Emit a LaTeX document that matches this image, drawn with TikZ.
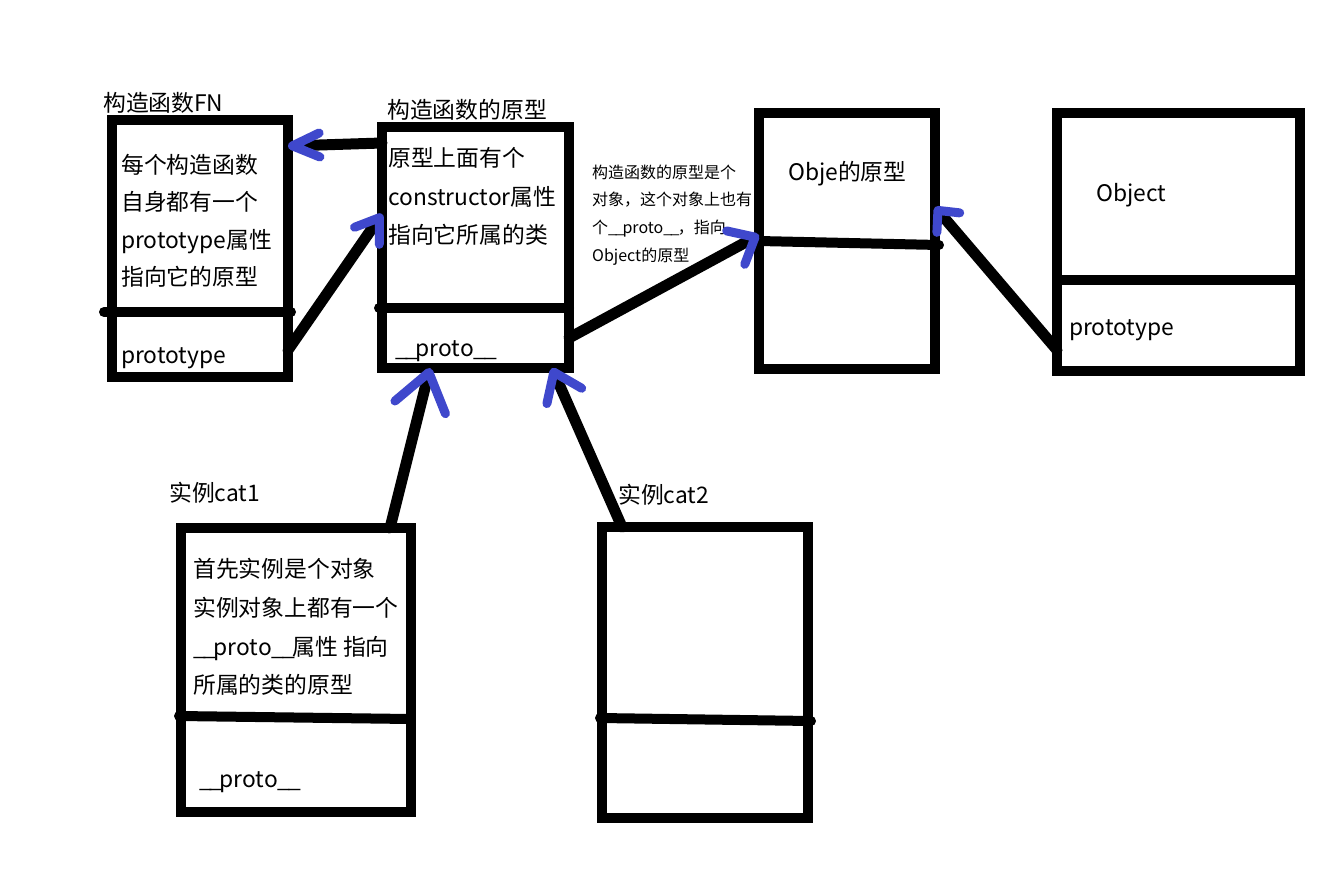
\documentclass[tikz,border=0pt]{standalone}
\usepackage{fontspec}
\newfontfamily\cjk{Noto Sans CJK SC}
\usetikzlibrary{arrows.meta}
\definecolor{pblue}{HTML}{3F48CC}
\newcommand\usc{\_\kern-0.11em}
\begin{document}
\begin{tikzpicture}[x=1pt,y=-1pt,
  box/.style={draw, line width=10pt, inner sep=0pt, outer sep=0pt},
  divider/.style={line width=10pt, line cap=round},
  conn/.style={line width=11pt, line cap=round},
  big/.style={anchor=base west, inner sep=0pt, font=\cjk\fontsize{22.8}{27}\selectfont},
  small/.style={anchor=base west, inner sep=0pt, font=\cjk\fontsize{16}{20}\selectfont},
  tipb/.style 2 args={-{Straight Barb[color=pblue, length=#1, width=#2, round, line width=9pt]}}
]
\fill[white] (0,0) rectangle (1329,888);
\useasboundingbox (0,0) rectangle (1329,888);

% ---------- texts ----------
\node[big] (lfn) at (103,111.6) {构造函数FN};
\node[big] (fn1) at (121,173.6) {每个构造函数};
\node[big] (fn2) at (121,210.6) {自身都有一个};
\node[big] (fn3) at (121,248.6) {prototype属性};
\node[big] (fn4) at (121,285.6) {指向它的原型};
\node[big] (fn5) at (121,363) {prototype};

\node[big] (lpr) at (387,118.6) {构造函数的原型};
\node[big] (pr1) at (388,166.6) {原型上面有个};
\node[big] (pr2) at (388,205.6) {constructor属性};
\node[big] (pr3) at (388,243.6) {指向它所属的类};
\node[big] (pr4) at (395,356) {\usc\usc proto\usc\usc};

\node[small] (an1) at (592,178) {构造函数的原型是个};
\node[small] (an2) at (592,205.7) {对象，这个对象上也有};
\node[small] (an3) at (592,233.4) {个\usc\usc proto\usc\usc，指向};
\node[small] (an4) at (592,261) {Object的原型};

\node[big] (ob1) at (788,180.6) {Obje的原型};
\node[big] (os1) at (1096,201) {Object};
\node[big] (os2) at (1069,335) {prototype};

\node[big] (lc1) at (169,501.6) {实例cat1};
\node[big] (c11) at (193,577.6) {首先实例是个对象};
\node[big] (c12) at (193,616.6) {实例对象上都有一个};
\node[big] (c13) at (193,655.6) {\usc\usc proto\usc\usc 属性 指向};
\node[big] (c14) at (193,693.6) {所属的类的原型};
\node[big] (c15) at (199,787) {\usc\usc proto\usc\usc};

\node[big] (lc2) at (618,503.6) {实例cat2};

% ---------- boxes ----------
\node[box, minimum width=176pt, minimum height=257pt] (fn) at (200,248.5) {};
\node[box, minimum width=187pt, minimum height=241pt] (proto) at (475.5,247.5) {};
\node[box, minimum width=176pt, minimum height=256pt] (obje) at (847,241) {};
\node[box, minimum width=243pt, minimum height=258pt] (object) at (1178.5,242) {};
\node[box, minimum width=230pt, minimum height=284pt] (cat1) at (296,670) {};
\node[box, minimum width=206pt, minimum height=291pt] (cat2) at (705,672.5) {};

% ---------- dividers ----------
\draw[divider] (104,312) -- (291,312);
\draw[divider] (379,308) -- (569,308);
\draw[divider] (759,241) -- (939,245);
\draw[divider] (1057,280) -- (1300,280);
\draw[divider] (179,716) -- (410,719);
\draw[divider] (600,718) -- (811,721);

% ---------- connectors ----------
\draw[conn, tipb={27pt}{24pt}] (proto.west |- 0,143) -- (fn.east |- 0,146);
\draw[conn, tipb={22pt}{30pt}] (fn.east |- 0,350) -- (proto.west |- 0,214);
\draw[conn, tipb={36pt}{52pt}] (cat1.north -| 390,0) -- (proto.south -| 430,0);
\draw[conn, tipb={26pt}{38pt}] (cat2.north -| 622,0) -- (proto.south -| 552,0);
\draw[conn, tipb={22pt}{38pt}] (proto.east |- 0,338) -- (obje.west |- 0,235);
\draw[conn, tipb={16pt}{30pt}] (object.west |- 0,350) -- (obje.east |- 0,207);
\end{tikzpicture}
\end{document}
